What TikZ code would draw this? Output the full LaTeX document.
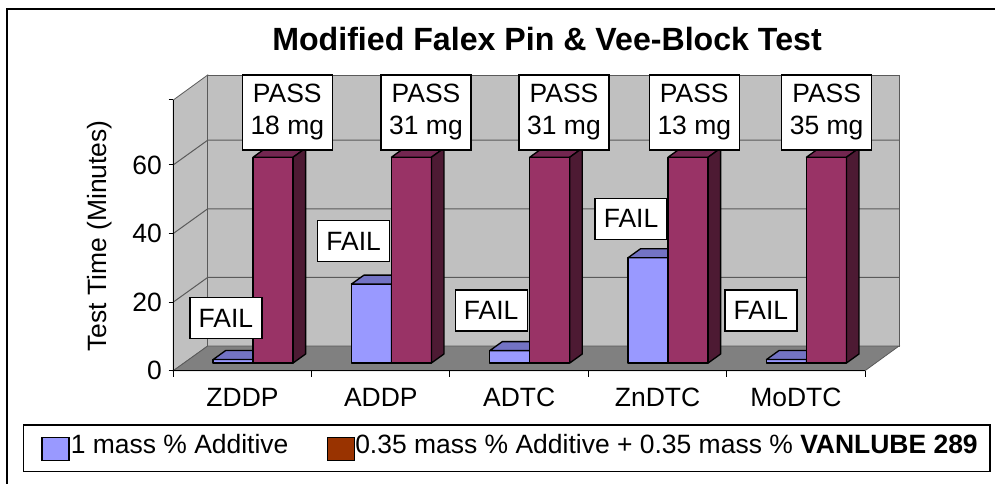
\documentclass[tikz,border=0pt]{standalone}
\usepackage{fontspec}
\setmainfont{Liberation Sans}
\definecolor{wallc}{HTML}{C0C0C0}
\definecolor{floorc}{HTML}{808080}
\definecolor{gridc}{HTML}{5A5A5A}
\definecolor{bluef}{HTML}{9999FF}
\definecolor{bluet}{HTML}{7373C4}
\definecolor{blues}{HTML}{4D4D80}
\definecolor{redf}{HTML}{993366}
\definecolor{redt}{HTML}{732650}
\definecolor{reds}{HTML}{4D1A33}
\definecolor{legred}{HTML}{993300}
\tikzset{
  txt/.style={font=\fontsize{19.85}{24}\selectfont, inner sep=0pt},
  lbl/.style={draw=black, line width=1pt, fill=white, font=\fontsize{19.85}{24}\selectfont, inner sep=0pt, align=center},
  passbox/.style={lbl, minimum width=67.5pt, minimum height=56.25pt},
  failbox/.style={lbl, minimum width=54pt, minimum height=30.75pt},
  baredge/.style={draw=black, line width=1pt, line join=round},
  wallst/.style={draw=gridc, line width=0.6pt},
  gridst/.style={draw=gridc, line width=0.75pt},
  keybox/.style={draw=black, line width=1pt, inner sep=0pt, minimum width=20.25pt, minimum height=17.5pt},
}
\newcommand{\colbar}[5]{%
  \filldraw[fill=#3, baredge] (#1,363) rectangle ({#1+40},#2);
  \filldraw[fill=#4, baredge] (#1,#2) -- ({#1+12.5},{#2-9}) -- ({#1+52.5},{#2-9}) -- ({#1+40},#2) -- cycle;
  \filldraw[fill=#5, baredge] ({#1+40},363) -- ({#1+40},#2) -- ({#1+52.5},{#2-9}) -- ({#1+52.5},354) -- cycle;
}
\begin{document}
\begin{tikzpicture}[x=0.75pt,y=-0.75pt]
\useasboundingbox (0,0) rectangle (995,484);
% outer frame
\draw[line width=1.1pt] (7,484) -- (7,9) -- (995,9);
% title
\node[inner sep=0pt, font=\fontsize{24.1}{28}\selectfont\bfseries] (title) at (547,39) {Modified Falex Pin \& Vee-Block Test};
% 3D frame coordinates
\coordinate (FL) at (173.3,370.7);
\coordinate (FLt) at (173.3,100);
\coordinate (BL) at (207.7,346);
\coordinate (BLt) at (207.7,75);
\coordinate (BR) at (899,346);
\coordinate (BRt) at (899,75);
\coordinate (FR) at (865,370.7);
% walls and floor
\filldraw[fill=wallc, wallst] (FL) -- (FLt) -- (BLt) -- (BL) -- cycle;
\filldraw[fill=wallc, wallst] (BL) -- (BLt) -- (BRt) -- (BR) -- cycle;
\filldraw[fill=floorc, wallst] (FL) -- (BL) -- (BR) -- (FR) -- cycle;
% gridlines
\foreach \v in {20,40,60} {
  \pgfmathsetmacro\yf{370.7-3.43*\v}
  \draw[gridst] (173.3,\yf) -- (207.7,{\yf-24.7}) -- (899,{\yf-24.7});
}
% axes
\draw[black, line width=0.75pt] (FLt) -- (FL) -- (FR);
\foreach \yy in {370.7,302.1,233.5,164.9,100} {
  \draw[black, line width=0.75pt] (168.5,\yy) -- (173.3,\yy);
}
\foreach \i in {0,...,5} {
  \draw[black, line width=0.75pt] ({173.3+138.34*\i},370.7) -- ++(0,6);
}
% tick labels
\node[txt, anchor=east] (y0) at (162,370.7) {0};
\node[txt, anchor=east] (y20) at (162,302.1) {20};
\node[txt, anchor=east] (y40) at (162,233.5) {40};
\node[txt, anchor=east] (y60) at (162,164.9) {60};
\node[txt, rotate=90] (ytitle) at (100,236) {Test Time (Minutes)};
% category labels
\foreach \i/\c in {0/ZDDP,1/ADDP,2/ADTC,3/ZnDTC,4/MoDTC} {
  \node[txt, anchor=base] (cat\i) at ({242.5+138.34*\i},406) {\c};
}
% bars
\foreach \i/\vb in {0/1,1/23,2/3.6,3/30.7,4/1} {
  \pgfmathsetmacro\xb{213.1+138.34*\i}
  \pgfmathsetmacro\xr{\xb+40}
  \pgfmathsetmacro\tb{363-3.43*\vb}
  \pgfmathsetmacro\tr{363-3.43*60}
  \colbar{\xb}{\tb}{bluef}{bluet}{blues}
  \colbar{\xr}{\tr}{redf}{redt}{reds}
}
% data labels
\node[passbox] (p0) at (287.3,112.5) {PASS\\18 mg};
\node[passbox] (p1) at (426,112.5) {PASS\\31 mg};
\node[passbox] (p2) at (564,112.5) {PASS\\31 mg};
\node[passbox] (p3) at (694.3,112.5) {PASS\\13 mg};
\node[passbox] (p4) at (826.7,112.5) {PASS\\35 mg};
\node[failbox] (f0) at (225.9,318) {FAIL};
\node[failbox] (f1) at (353.7,241.2) {FAIL};
\node[failbox] (f2) at (491.2,310.4) {FAIL};
\node[failbox] (f3) at (631,218.7) {FAIL};
\node[failbox] (f4) at (760.9,310.4) {FAIL};
% legend
\node[draw=black, line width=1pt, inner sep=0pt, minimum width=725pt, minimum height=34.7pt] (legend) at (506.7,448.2) {};
\node[keybox, fill=bluef] (k1) at (55.5,449) {};
\node[keybox, fill=legred] (k2) at (341,449) {};
\node[txt, anchor=base west] (l1) at (70.5,453.5) {1 mass \% Additive};
\node[txt, anchor=base west] (l2) at (355,453.5) {0.35 mass \% Additive + 0.35 mass \% \textbf{VANLUBE 289}};
\end{tikzpicture}
\end{document}
